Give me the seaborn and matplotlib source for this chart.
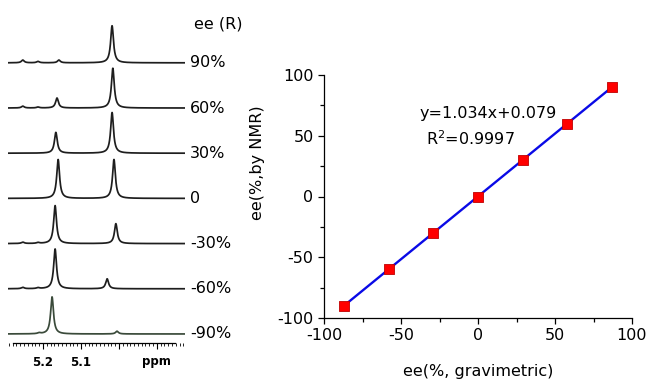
import numpy as np
import pandas as pd
import seaborn as sns
import matplotlib.pyplot as plt
from matplotlib.ticker import MultipleLocator, AutoMinorLocator

sns.set_style("ticks")
plt.rcParams['font.family'] = ['DejaVu Sans']
plt.rcParams['axes.unicode_minus'] = False
plt.rcParams['text.color'] = 'black'
plt.rcParams['axes.labelcolor'] = 'black'
plt.rcParams['xtick.color'] = 'black'
plt.rcParams['ytick.color'] = 'black'
plt.rcParams['axes.edgecolor'] = 'black'

# NMR traces, top to bottom: label, peak positions (ppm), peak heights (trace spacing = 1)
ee_labels = ['90%', '60%', '30%', '0', '-30%', '-60%', '-90%']
peak_ppm = [
    [5.018, 5.158, 5.213, 5.253],
    [5.016, 5.163, 5.213, 5.253],
    [5.018, 5.166],
    [5.160, 5.013],
    [5.168, 5.008, 5.213, 5.253],
    [5.168, 5.031, 5.213, 5.253],
    [5.176, 5.005, 5.210],
]
peak_height = [
    [0.82, 0.06, 0.03, 0.06],
    [0.88, 0.22, 0.02, 0.04],
    [0.90, 0.46],
    [0.86, 0.86],
    [0.84, 0.44, 0.02, 0.03],
    [0.88, 0.22, 0.02, 0.03],
    [0.82, 0.06, 0.02],
]
half_width = 0.0045

# calibration data
ee_grav = [-87, -58, -29, 0, 29, 58, 87]
ee_nmr = [-90, -60, -30, 0, 30, 60, 90]
slope, intercept = 1.034, 0.079

W, H = 650, 384
fig = plt.figure(figsize=(W / 100, H / 100), dpi=100)

# ---- left: stacked spectra
ax1 = fig.add_axes([8 / W, (H - 343) / H, 177 / W, 343 / H])
ppm = np.linspace(5.292, 4.826, 1500)
n = len(ee_labels)
for i, lab in enumerate(ee_labels):
    off = n - 1 - i
    y = np.zeros_like(ppm)
    for p, h in zip(peak_ppm[i], peak_height[i]):
        y += h * half_width ** 2 / ((ppm - p) ** 2 + half_width ** 2)
    d = pd.DataFrame({'ppm': ppm, 'y': y + off})
    col = '#3a4a3a' if lab == '-90%' else '#1e1e1e'
    sns.lineplot(data=d, x='ppm', y='y', ax=ax1, color=col, lw=1.25,
                 estimator=None, sort=False)
    ax1.text(1.03, off, lab, transform=ax1.get_yaxis_transform(),
             va='center', ha='left', fontsize=11.5, clip_on=False)
ax1.text(1.05, 6.85, 'ee (R)', transform=ax1.get_yaxis_transform(),
         va='center', ha='left', fontsize=11.5, clip_on=False)

ax1.set_xlim(5.292, 4.826)
ax1.set_ylim(-0.2, 7.39)
ax1.set_yticks([])
for s in ['left', 'right', 'top']:
    ax1.spines[s].set_visible(False)
ax1.spines['bottom'].set_bounds(5.279, 4.853)
ax1.spines['bottom'].set_linewidth(0.9)
ax1.set_xticks([5.2, 5.1, 5.0, 4.9])
ax1.set_xticklabels(['5.2', '5.1', '', 'ppm'], fontweight='bold', fontsize=8.5)
ax1.xaxis.set_minor_locator(MultipleLocator(0.01))
ax1.tick_params(axis='x', which='major', length=4, width=0.8, pad=5)
ax1.tick_params(axis='x', which='minor', length=2.5, width=0.6)
ax1.set_xlabel('')
ax1.set_ylabel('')

# ---- right: calibration plot
ax2 = fig.add_axes([324 / W, (H - 318) / H, 308 / W, 243 / H])
xfit = np.array([ee_grav[0], ee_grav[-1]])
sns.lineplot(x=xfit, y=slope * xfit + intercept, ax=ax2, color='#0a0ae6', lw=1.7)
sns.scatterplot(x=ee_grav, y=ee_nmr, ax=ax2, marker='s', s=45, color='#ff0000',
                edgecolor='#c00000', linewidth=0.6, zorder=3)
ax2.set_xlim(-100, 100)
ax2.set_ylim(-100, 100)
ax2.set_xticks([-100, -50, 0, 50, 100])
ax2.set_yticks([-100, -50, 0, 50, 100])
ax2.xaxis.set_minor_locator(AutoMinorLocator(2))
ax2.yaxis.set_minor_locator(AutoMinorLocator(2))
ax2.tick_params(which='major', length=4.5, width=0.9, labelsize=11.5, pad=3)
ax2.tick_params(which='minor', length=3, width=0.9)
sns.despine(ax=ax2)
for s in ['left', 'bottom']:
    ax2.spines[s].set_linewidth(0.9)
ax2.set_xlabel('ee(%, gravimetric)', fontsize=11.5, labelpad=15)
ax2.set_ylabel('ee(%,by NMR)', fontsize=11.5)
ax2.yaxis.set_label_coords(-0.19, 0.64)
ax2.text(-37.7, 68.7, 'y=1.034x+0.079', fontsize=11.5, va='center', ha='left')
ax2.text(-33.8, 47.3, 'R$^2$=0.9997', fontsize=11.5, va='center', ha='left')

fig.savefig('out.png', dpi=100)
